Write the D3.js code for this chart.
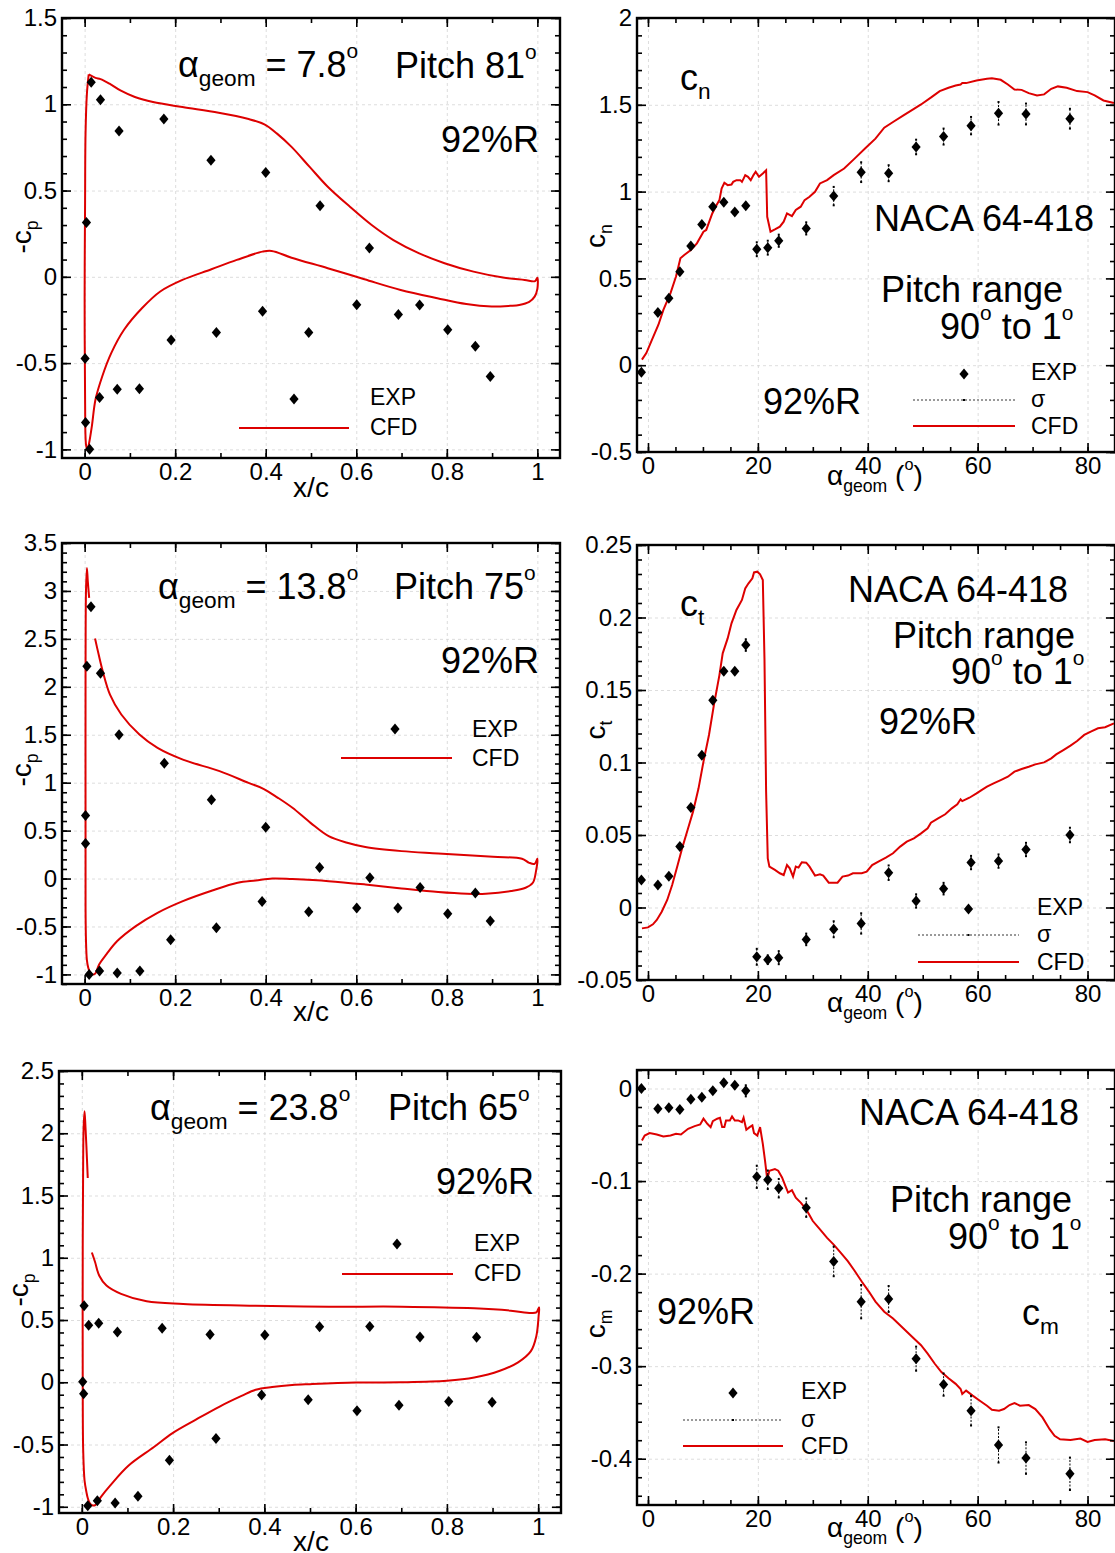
<!DOCTYPE html>
<html><head><meta charset="utf-8">
<script src="https://cdn.jsdelivr.net/npm/d3@7"></script>
<style>
body{margin:0;background:#fff}
text{font-family:"Liberation Sans",Arial,Helvetica,sans-serif;fill:#000}
</style>
</head><body><script>
// ---------------- DATA ----------------
// Left panels: -Cp vs x/c at 92%R
const cpExp78 = [[0.004,0.315],[0.0145,1.128],[0.035,1.026],[0.076,0.845],[0.175,0.915],[0.279,0.676],[0.40,0.604],[0.52,0.412],[0.629,0.167],
 [0.001,-0.474],[0.002,-0.844],[0.011,-1.0],[0.033,-0.70],[0.072,-0.651],[0.121,-0.648],[0.191,-0.366],[0.291,-0.322],[0.393,-0.199],[0.495,-0.322],[0.601,-0.162],[0.693,-0.218],[0.740,-0.164],[0.802,-0.307],[0.863,-0.403],[0.896,-0.578]];
const cpCfd78 = [[0.009,1.173],[0.024,1.153],[0.035,1.146],[0.055,1.119],[0.079,1.08],[0.111,1.042],[0.151,1.013],[0.216,0.984],[0.296,0.951],[0.36,0.916],[0.397,0.884],[0.425,0.83],[0.457,0.753],[0.497,0.637],[0.537,0.522],[0.586,0.406],[0.634,0.30],[0.682,0.213],[0.739,0.136],[0.795,0.079],[0.859,0.03],[0.924,-0.004],[0.972,-0.018],[0.995,-0.025],[1.0,-0.005],[1.0,-0.07],[0.994,-0.115],[0.982,-0.145],[0.96,-0.163],[0.94,-0.168],[0.899,-0.172],[0.843,-0.158],[0.779,-0.124],[0.698,-0.076],[0.618,-0.014],[0.537,0.05],[0.457,0.111],[0.413,0.15],[0.393,0.146],[0.336,0.098],[0.28,0.044],[0.216,-0.018],[0.167,-0.085],[0.127,-0.181],[0.087,-0.307],[0.059,-0.441],[0.039,-0.576],[0.024,-0.711],[0.016,-0.865],[0.010,-0.962],[0.006,-1.004],[0.003,-0.971],[0.001,-0.711],[0.0,-0.133],[0.001,0.444],[0.002,0.83],[0.005,1.061],[0.009,1.173]];

const cpExp138 = [[0.002,0.658],[0.002,0.366],[0.005,2.214],[0.014,2.836],[0.035,2.141],[0.076,1.499],[0.176,1.203],[0.28,0.821],[0.40,0.536],[0.519,0.116],[0.63,0.008],[0.741,-0.093],[0.863,-0.152],
 [0.010,-1.0],[0.033,-0.965],[0.072,-0.986],[0.122,-0.965],[0.19,-0.638],[0.291,-0.513],[0.392,-0.239],[0.495,-0.346],[0.601,-0.308],[0.692,-0.308],[0.802,-0.367],[0.896,-0.444]];
const cpCfd138 = [[0.010,2.927],[0.007,3.1],[0.005,3.239],[0.003,3.0],[0.002,2.0],[0.002,0.5],[0.002,-0.3],[0.003,-0.65],[0.005,-0.85],[0.008,-0.93],[0.012,-0.98],[0.016,-1.0],[0.023,-0.993],[0.032,-0.896],[0.048,-0.791],[0.072,-0.652],[0.113,-0.496],[0.161,-0.357],[0.217,-0.235],[0.282,-0.124],[0.338,-0.044],[0.378,-0.02],[0.415,0.001],[0.459,-0.006],[0.539,-0.027],[0.62,-0.062],[0.70,-0.103],[0.781,-0.141],[0.845,-0.159],[0.886,-0.159],[0.942,-0.131],[0.974,-0.096],[0.99,-0.044],[0.997,0.077],[1.0,0.206],[0.994,0.154],[0.982,0.164],[0.966,0.206],[0.902,0.227],[0.781,0.262],[0.70,0.286],[0.62,0.328],[0.58,0.373],[0.539,0.442],[0.499,0.581],[0.459,0.738],[0.427,0.842],[0.395,0.936],[0.362,0.998],[0.298,1.12],[0.217,1.241],[0.161,1.363],[0.121,1.502],[0.081,1.711],[0.056,1.919],[0.04,2.162],[0.031,2.336],[0.023,2.503]];

const cpExp238 = [[0.005,0.615],[0.015,0.458],[0.037,0.475],[0.078,0.404],[0.176,0.434],[0.281,0.383],[0.401,0.38],[0.521,0.445],[0.631,0.448],[0.741,0.364],[0.865,0.361],
 [0.002,0.005],[0.004,-0.093],[0.013,-0.992],[0.034,-0.951],[0.073,-0.97],[0.123,-0.916],[0.192,-0.627],[0.294,-0.452],[0.394,-0.103],[0.496,-0.141],[0.603,-0.228],[0.695,-0.184],[0.804,-0.155],[0.899,-0.16]];
const cpCfd238 = [[0.013,1.641],[0.010,1.9],[0.008,2.05],[0.006,2.176],[0.004,2.05],[0.003,1.8],[0.002,1.074],[0.002,-0.006],[0.003,-0.546],[0.006,-0.789],[0.010,-0.88],[0.013,-0.93],[0.018,-0.975],[0.024,-0.99],[0.030,-0.985],[0.042,-0.92],[0.062,-0.83],[0.102,-0.67],[0.158,-0.52],[0.198,-0.41],[0.25,-0.3],[0.302,-0.195],[0.35,-0.11],[0.381,-0.06],[0.417,-0.038],[0.461,-0.022],[0.50,-0.015],[0.6,-0.002],[0.7,0.0],[0.8,0.012],[0.86,0.038],[0.916,0.092],[0.956,0.16],[0.984,0.25],[0.996,0.372],[1.001,0.534],[1.002,0.601],[0.996,0.561],[0.984,0.556],[0.94,0.575],[0.86,0.594],[0.701,0.607],[0.541,0.607],[0.381,0.615],[0.222,0.629],[0.142,0.65],[0.086,0.71],[0.054,0.777],[0.038,0.858],[0.029,0.966],[0.022,1.042]];

// Right panels: coefficients vs alpha_geom
const alphaExp = [-1.2,1.8,3.8,5.8,7.8,9.8,11.8,13.8,15.8,17.8,19.8,21.8,23.8,28.8,33.8,38.8,43.8,48.8,53.8,58.8,63.8,68.8,76.8];
const cnExp   = [-0.041,0.304,0.386,0.539,0.687,0.811,0.913,0.938,0.882,0.918,0.668,0.677,0.717,0.788,0.974,1.112,1.106,1.257,1.317,1.380,1.451,1.447,1.420];
const cnSigma = [0.005,0.005,0.005,0.005,0.005,0.008,0.008,0.008,0.008,0.012,0.04,0.04,0.035,0.035,0.053,0.057,0.046,0.042,0.046,0.05,0.065,0.06,0.057];
const ctExp   = [0.019,0.0155,0.0215,0.042,0.069,0.105,0.143,0.163,0.163,0.181,-0.034,-0.036,-0.0346,-0.022,-0.015,-0.011,0.024,0.0045,0.013,0.031,0.032,0.040,0.050];
const ctSigma = [0.001,0.001,0.001,0.0015,0.0015,0.002,0.002,0.002,0.002,0.004,0.0055,0.003,0.0045,0.004,0.0055,0.007,0.005,0.0046,0.004,0.0046,0.0046,0.0046,0.005];
const cmExp   = [0.0,-0.0218,-0.0207,-0.0228,-0.0116,-0.0094,-0.0025,0.0062,0.0036,-0.0025,-0.0954,-0.0986,-0.1077,-0.1287,-0.1868,-0.2303,-0.2274,-0.2919,-0.3199,-0.3481,-0.3851,-0.3993,-0.4163];
const cmSigma = [0.001,0.001,0.001,0.002,0.002,0.002,0.002,0.003,0.003,0.006,0.012,0.01,0.01,0.01,0.016,0.018,0.014,0.013,0.012,0.016,0.019,0.017,0.0175];

const cnCfd = [[-1.1,0.032],[-0.3,0.07],[0.6,0.137],[1.9,0.233],[2.8,0.319],[4.1,0.415],[5.1,0.511],[5.9,0.616],[6.6,0.635],[7.8,0.664],[8.9,0.702],[10.1,0.769],[10.6,0.779],[11.7,0.874],[12.3,0.913],[13.0,0.951],[13.4,1.018],[13.9,1.051],[14.5,1.037],[15.2,1.041],[15.5,1.056],[16.1,1.066],[16.8,1.066],[17.1,1.056],[17.4,1.075],[17.7,1.095],[18.2,1.085],[18.7,1.066],[19.2,1.095],[19.6,1.114],[20.2,1.085],[20.9,1.104],[21.5,1.123],[21.7,0.855],[22.3,0.769],[23.1,0.782],[24.0,0.798],[24.7,0.827],[25.3,0.874],[26.2,0.859],[26.9,0.894],[27.8,0.913],[28.5,0.951],[29.4,0.97],[30.4,0.999],[31.3,1.047],[32.6,1.066],[33.8,1.095],[35.7,1.133],[37.6,1.19],[39.5,1.248],[41.4,1.305],[43.0,1.368],[44.6,1.401],[46.5,1.439],[48.4,1.477],[49.7,1.502],[51.6,1.544],[53.1,1.579],[54.7,1.598],[56.0,1.611],[56.9,1.617],[57.2,1.625],[57.9,1.625],[59.8,1.64],[61.7,1.65],[62.6,1.653],[64.2,1.644],[65.5,1.617],[66.7,1.588],[68.0,1.586],[69.3,1.567],[70.8,1.554],[72.1,1.56],[73.4,1.592],[74.6,1.606],[76.2,1.598],[78.1,1.579],[80.0,1.573],[81.3,1.554],[82.9,1.525],[84.8,1.51]];

const ctCfd = [[-1.1,-0.0144],[0.0,-0.0137],[0.9,-0.0116],[1.6,-0.0086],[2.5,-0.0029],[3.5,0.0052],[4.4,0.0155],[5.4,0.0293],[6.3,0.042],[7.3,0.0546],[8.2,0.0661],[9.2,0.0822],[10.1,0.1006],[11.1,0.119],[12.0,0.1397],[13.0,0.1603],[13.6,0.1753],[14.5,0.1856],[15.2,0.196],[16.1,0.2052],[17.1,0.2121],[17.7,0.2201],[18.3,0.2236],[19.0,0.227],[19.3,0.2311],[19.9,0.2316],[20.4,0.2298],[20.9,0.2259],[21.2,0.1718],[21.5,0.0799],[21.8,0.0339],[22.1,0.0282],[23.1,0.0259],[24.0,0.0236],[24.7,0.0224],[25.3,0.0293],[25.8,0.027],[26.4,0.0213],[26.9,0.0282],[27.4,0.0275],[28.0,0.0312],[28.8,0.0309],[29.4,0.0282],[30.4,0.022],[31.3,0.0229],[31.9,0.022],[32.9,0.0171],[34.5,0.0171],[35.4,0.0213],[36.4,0.022],[37.3,0.0236],[38.9,0.0236],[39.8,0.0247],[40.8,0.0293],[42.1,0.032],[43.3,0.0344],[44.6,0.0374],[45.9,0.042],[47.1,0.0454],[48.4,0.0477],[49.7,0.0511],[50.9,0.0546],[51.5,0.0585],[52.8,0.0615],[54.1,0.0643],[55.3,0.0684],[56.3,0.0711],[56.9,0.0746],[57.2,0.0734],[58.5,0.0757],[59.8,0.0787],[60.7,0.081],[61.7,0.0833],[62.9,0.0856],[64.2,0.0879],[65.5,0.0902],[66.7,0.0937],[68.0,0.0955],[69.3,0.0971],[70.5,0.0987],[72.1,0.1001],[73.4,0.1029],[74.3,0.1056],[75.6,0.1086],[76.9,0.1116],[78.1,0.1148],[79.4,0.119],[80.6,0.1213],[81.9,0.1236],[83.2,0.1243],[84.8,0.127]];

const cmCfd = [[-1.1,-0.0562],[-0.6,-0.0508],[0.3,-0.0482],[1.6,-0.0497],[2.8,-0.0519],[4.1,-0.0508],[5.1,-0.049],[6.0,-0.0497],[7.3,-0.0435],[8.5,-0.0406],[9.5,-0.0388],[10.1,-0.0326],[10.8,-0.0381],[11.4,-0.0417],[11.8,-0.0352],[12.6,-0.0326],[13.1,-0.0316],[13.5,-0.0417],[13.9,-0.0417],[14.2,-0.0345],[14.9,-0.0345],[15.3,-0.0301],[15.8,-0.0345],[16.4,-0.0345],[17.1,-0.0363],[17.4,-0.0316],[17.9,-0.0446],[18.5,-0.0417],[19.0,-0.0399],[19.3,-0.0482],[19.9,-0.0508],[20.4,-0.0417],[20.9,-0.0598],[21.3,-0.078],[21.7,-0.0979],[22.1,-0.0888],[23.1,-0.087],[23.7,-0.0888],[24.4,-0.0961],[25.0,-0.1052],[25.5,-0.1124],[26.2,-0.1099],[26.9,-0.1179],[27.8,-0.1233],[28.8,-0.1306],[30.0,-0.1432],[31.3,-0.1523],[32.6,-0.1614],[33.8,-0.1686],[35.1,-0.1777],[36.4,-0.1868],[37.6,-0.1969],[38.9,-0.2085],[40.2,-0.2194],[41.4,-0.2303],[43.0,-0.2412],[44.6,-0.2484],[46.5,-0.2593],[48.4,-0.2702],[49.7,-0.2774],[50.9,-0.2865],[52.2,-0.2974],[53.4,-0.3064],[54.7,-0.313],[56.0,-0.3191],[56.9,-0.3246],[57.2,-0.33],[57.9,-0.3264],[59.1,-0.3318],[60.4,-0.3373],[61.7,-0.3427],[62.6,-0.3471],[63.9,-0.3481],[64.8,-0.3463],[65.8,-0.342],[66.7,-0.3398],[67.7,-0.3427],[69.3,-0.342],[70.5,-0.3463],[71.8,-0.3554],[73.1,-0.3681],[74.0,-0.3753],[75.0,-0.379],[76.9,-0.3797],[78.7,-0.3782],[80.0,-0.3819],[81.3,-0.3797],[83.2,-0.379],[84.8,-0.3808]];

// Tick labels
const cpXTicks = [0,0.2,0.4,0.6,0.8,1];
const alphaTicks = [0,20,40,60,80];

// ---------------- DRAWING ----------------
const RED = "#dd0000";
const svg = d3.select("body").append("svg").attr("width",1115).attr("height",1553);
const fmt = d => String(Math.round(d*1000)/1000);
const rng = (a,b,s) => d3.range(Math.round(a/s), Math.round(b/s)+1).map(i => +(i*s).toFixed(4));
const diamond = "M0,-5.5L4.6,0L0,5.5L-4.6,0Z";
let clipId = 0;

function panel(p) {
  const x = d3.scaleLinear().domain(p.xd).range([p.l, p.r]);
  const y = d3.scaleLinear().domain(p.yd).range([p.b, p.t]);
  const g = svg.append("g");
  const styleGrid = a => { a.select(".domain").remove(); a.selectAll("text").remove();
    a.selectAll("line").attr("stroke","#d4d4d4").attr("stroke-width",0.8).attr("stroke-dasharray","3,3"); };
  g.append("g").attr("transform",`translate(0,${p.b})`)
    .call(d3.axisBottom(x).tickValues(p.xMaj).tickSize(-(p.b-p.t))).call(styleGrid);
  g.append("g").attr("transform",`translate(${p.l},0)`)
    .call(d3.axisLeft(y).tickValues(p.yMaj).tickSize(-(p.r-p.l))).call(styleGrid);

  const id = "clip"+(clipId++);
  svg.append("clipPath").attr("id",id).append("rect")
    .attr("x",p.l).attr("y",p.t).attr("width",p.r-p.l).attr("height",p.b-p.t);
  const plot = g.append("g").attr("clip-path",`url(#${id})`);

  const styleTicks = (a, lbl) => { a.select(".domain").remove();
    a.selectAll("line").attr("stroke","#000").attr("stroke-width",1.6);
    if (lbl) a.selectAll("text").attr("font-size",24).attr("font-family",'"Liberation Sans",Arial,sans-serif');
    else a.selectAll("text").remove(); };
  const defs = [
    [d3.axisBottom, x, `translate(0,${p.b})`, p.xMaj, p.xMin, true],
    [d3.axisTop, x, `translate(0,${p.t})`, p.xMaj, p.xMin, false],
    [d3.axisLeft, y, `translate(${p.l},0)`, p.yMaj, p.yMin, true],
    [d3.axisRight, y, `translate(${p.r},0)`, p.yMaj, p.yMin, false]];
  defs.forEach(([fn, sc, tr, maj, min, lbl]) => {
    g.append("g").attr("transform",tr).call(fn(sc).tickValues(min).tickSize(-5).tickFormat("")).call(a=>styleTicks(a,false));
    g.append("g").attr("transform",tr).call(fn(sc).tickValues(maj).tickSize(-9).tickPadding(5).tickFormat(fmt)).call(a=>styleTicks(a,lbl));
  });
  g.append("rect").attr("x",p.l).attr("y",p.t).attr("width",p.r-p.l).attr("height",p.b-p.t)
    .attr("fill","none").attr("stroke","#000").attr("stroke-width",2.4);
  return {x, y, plot};
}

function rich(x, y, parts, size, anchor, rotate) {
  const t = svg.append("text").attr("font-size", size).attr("text-anchor", anchor||"start")
    .attr("xml:space","preserve").style("white-space","pre");
  if (rotate) t.attr("transform",`translate(${x},${y}) rotate(-90)`); else t.attr("x",x).attr("y",y);
  let cur = 0;
  parts.forEach(p => {
    const s = typeof p === "string" ? {t:p} : p;
    let off = 0, fs = size;
    if (s.sub) { off = 0.25*size; fs = 0.63*size; }
    if (s.sup) { off = -0.52*size; fs = 0.58*size; }
    t.append("tspan").attr("font-size", fs).attr("dy", off-cur).text(s.t);
    cur = off;
  });
  return t;
}
const SUB = t => ({t, sub:true}), SUP = t => ({t, sup:true});

function cpPanel(p, exp, cfd) {
  const P = panel(Object.assign({xd:[-0.05,1.05], xMaj:cpXTicks, xMin:rng(0,1,0.1),
    yMaj:rng(Math.ceil(p.yd[0]*2)/2, p.yd[1], 0.5), yMin:rng(Math.ceil(p.yd[0]*10)/10, p.yd[1], 0.1)}, p));
  P.plot.append("path").datum(cfd)
    .attr("d", d3.line().x(d=>P.x(d[0])).y(d=>P.y(d[1])).curve(d3.curveCatmullRom.alpha(0.5)))
    .attr("fill","none").attr("stroke",RED).attr("stroke-width",2);
  P.plot.selectAll(null).data(exp).join("path").attr("d",diamond)
    .attr("transform",d=>`translate(${P.x(d[0])},${P.y(d[1])})`).attr("fill","#000");
  return P;
}

function coefPanel(p, vals, sig, cfd) {
  const P = panel(Object.assign({xd:[-2,85], xMaj:alphaTicks, xMin:rng(0,85,5)}, p));
  P.plot.append("path").datum(cfd)
    .attr("d", d3.line().x(d=>P.x(d[0])).y(d=>P.y(d[1])))
    .attr("fill","none").attr("stroke",RED).attr("stroke-width",2);
  const pts = alphaExp.map((a,i)=>({a, v:vals[i], s:sig[i]}));
  const eb = P.plot.selectAll(null).data(pts).join("g")
    .attr("transform",d=>`translate(${P.x(d.a)},0)`);
  eb.append("line").attr("y1",d=>P.y(d.v-d.s)).attr("y2",d=>P.y(d.v+d.s))
    .attr("stroke","#000").attr("stroke-width",1).attr("stroke-dasharray","2,1.5");
  eb.append("rect").attr("x",-1).attr("width",2).attr("height",2).attr("y",d=>P.y(d.v+d.s)-1).attr("fill","#000");
  eb.append("rect").attr("x",-1).attr("width",2).attr("height",2).attr("y",d=>P.y(d.v-d.s)-1).attr("fill","#000");
  eb.append("path").attr("d",diamond).attr("transform",d=>`translate(0,${P.y(d.v)})`).attr("fill","#000");
  return P;
}

// Left column
cpPanel({l:62, r:560, t:18, b:458, yd:[-1.05,1.5]}, cpExp78, cpCfd78);
cpPanel({l:62, r:560, t:543, b:984, yd:[-1.1,3.5]}, cpExp138, cpCfd138);
cpPanel({l:59, r:561, t:1071, b:1513, yd:[-1.05,2.5]}, cpExp238, cpCfd238);

// Right column
coefPanel({l:637, r:1115, t:18, b:452, yd:[-0.5,2], yMaj:rng(-0.5,2,0.5), yMin:rng(-0.5,2,0.1)}, cnExp, cnSigma, cnCfd);
coefPanel({l:637, r:1115, t:545, b:980, yd:[-0.05,0.25], yMaj:rng(-0.05,0.25,0.05), yMin:rng(-0.05,0.25,0.01)}, ctExp, ctSigma, ctCfd);
coefPanel({l:637, r:1115, t:1070, b:1505, yd:[-0.45,0.02], yMaj:rng(-0.4,0,0.1), yMin:rng(-0.44,0.02,0.02)}, cmExp, cmSigma, cmCfd);

// Axis titles
rich(31, 237, ["-c", SUB("p")], 28, "middle", true);
rich(31, 770, ["-c", SUB("p")], 28, "middle", true);
rich(28, 1290, ["-c", SUB("p")], 28, "middle", true);
rich(311, 497, ["x/c"], 28, "middle");
rich(311, 1021, ["x/c"], 28, "middle");
rich(311, 1551, ["x/c"], 28, "middle");
rich(605, 236, ["c", SUB("n")], 28, "middle", true);
rich(605, 730, ["c", SUB("t")], 28, "middle", true);
rich(605, 1324, ["c", SUB("m")], 28, "middle", true);
const alphaTitle = ["α", SUB("geom"), " (", SUP("o"), ")"];
rich(827, 485, alphaTitle, 28);
rich(827, 1012, alphaTitle, 28);
rich(827, 1537, alphaTitle, 28);

// Annotations left
const F = 36;
rich(178, 77, ["α", SUB("geom"), " = 7.8", SUP("o")], F);
rich(395, 78, ["Pitch 81", SUP("o")], F);
rich(539, 152, ["92%R"], F, "end");
rich(158, 599, ["α", SUB("geom"), " = 13.8", SUP("o")], F);
rich(394, 599, ["Pitch 75", SUP("o")], F);
rich(539, 673, ["92%R"], F, "end");
rich(150, 1120, ["α", SUB("geom"), " = 23.8", SUP("o")], F);
rich(388, 1120, ["Pitch 65", SUP("o")], F);
rich(534, 1194, ["92%R"], F, "end");

// Annotations right
rich(680, 90, ["c", SUB("n")], F);
rich(874, 231, ["NACA 64-418"], F);
rich(881, 302, ["Pitch range"], F);
rich(940, 339, ["90", SUP("o"), " to 1", SUP("o")], F);
rich(763, 414, ["92%R"], F);

rich(680, 616, ["c", SUB("t")], F);
rich(848, 602, ["NACA 64-418"], F);
rich(893, 648, ["Pitch range"], F);
rich(951, 684, ["90", SUP("o"), " to 1", SUP("o")], F);
rich(879, 734, ["92%R"], F);

rich(859, 1125, ["NACA 64-418"], F);
rich(890, 1212, ["Pitch range"], F);
rich(948, 1249, ["90", SUP("o"), " to 1", SUP("o")], F);
rich(657, 1324, ["92%R"], F);
rich(1022, 1325, ["c", SUB("m")], F);

// Legends
const LF = 23;
function legendLeft(dx, dy, lx1, lx2, ly, tx, ty1, ty2) {
  svg.append("path").attr("d",diamond).attr("transform",`translate(${dx},${dy})`).attr("fill","#000");
  rich(tx, ty1, ["EXP"], LF);
  svg.append("line").attr("x1",lx1).attr("x2",lx2).attr("y1",ly).attr("y2",ly).attr("stroke",RED).attr("stroke-width",2);
  rich(tx, ty2, ["CFD"], LF);
}
legendLeft(294, 399, 239, 349, 428, 370, 405, 435);
legendLeft(395, 729, 341, 452, 758, 472, 737, 766);
legendLeft(397, 1244, 342, 453, 1274, 474, 1251, 1281);

function legendRight(x1, x2, yE, yS, yC, tx) {
  const cx = (x1+x2)/2;
  svg.append("path").attr("d",diamond).attr("transform",`translate(${cx},${yE-6})`).attr("fill","#000");
  rich(tx, yE, ["EXP"], LF);
  svg.append("line").attr("x1",x1).attr("x2",x2).attr("y1",yS).attr("y2",yS).attr("stroke","#000").attr("stroke-width",0.8).attr("stroke-dasharray","2,2");
  svg.append("rect").attr("x",cx-1).attr("y",yS-1).attr("width",2).attr("height",2).attr("fill","#000");
  rich(tx, yS+7, ["σ"], LF);
  svg.append("line").attr("x1",x1).attr("x2",x2).attr("y1",yC).attr("y2",yC).attr("stroke",RED).attr("stroke-width",2);
  rich(tx, yC+8, ["CFD"], LF);
}
legendRight(913, 1015, 380, 400, 426, 1031);
legendRight(918, 1019, 915, 935, 962, 1037);
legendRight(683, 783, 1399, 1420, 1446, 801);
</script></body></html>
